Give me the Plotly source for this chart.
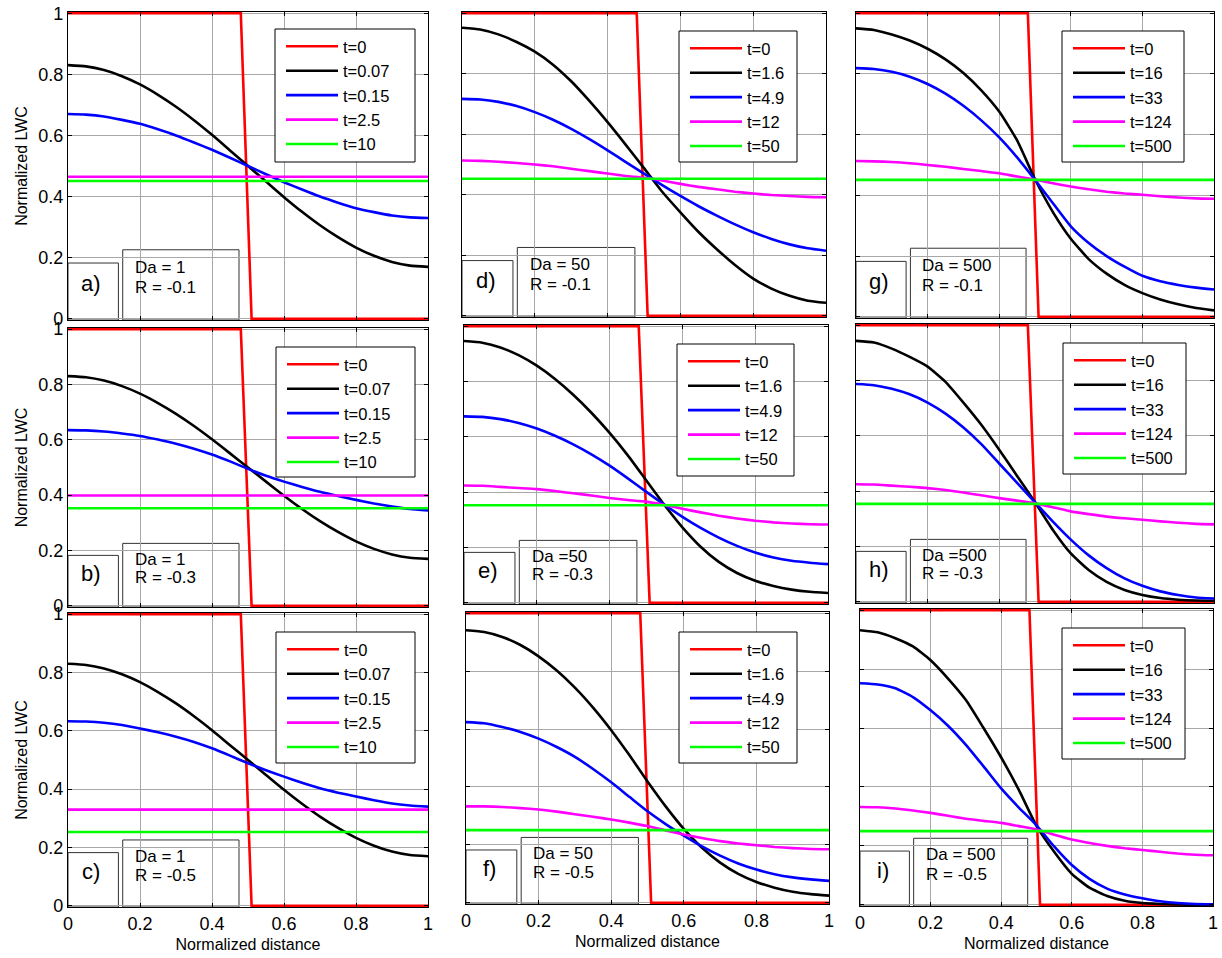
import plotly.graph_objects as go

W, H = 1222, 958
FONT = "Arial, Liberation Sans, sans-serif"

# ---------------- data ----------------
X = [0.0, 0.05, 0.1, 0.15, 0.2, 0.25, 0.3, 0.35, 0.4, 0.45, 0.5,
     0.55, 0.6, 0.65, 0.7, 0.75, 0.8, 0.85, 0.9, 0.95, 1.0]
STEP_X = [0.0, 0.48, 0.51, 1.0]
STEP_Y = [1.0, 1.0, 0.0, 0.0]
FLAT_X = [0.0, 1.0]

Y_TICKS = [0, 0.2, 0.4, 0.6, 0.8, 1]
Y_TICKTEXT = ["0", "0.2", "0.4", "0.6", "0.8", "1"]

LEG_DA1 = ["t=0", "t=0.07", "t=0.15", "t=2.5", "t=10"]
LEG_DA50 = ["t=0", "t=1.6", "t=4.9", "t=12", "t=50"]
LEG_DA500 = ["t=0", "t=16", "t=33", "t=124", "t=500"]

PANEL_LABELS = ["a)", "b)", "c)", "d)", "e)", "f)", "g)", "h)", "i)"]
DA_TEXT = ["Da = 1", "Da = 1", "Da = 1", "Da = 50", "Da =50", "Da = 50",
           "Da = 500", "Da =500", "Da = 500"]
R_TEXT = ["R = -0.1", "R = -0.3", "R = -0.5"] * 3

# panel a  (Da=1, R=-0.1)
a_black = [0.83, 0.826, 0.814, 0.794, 0.767, 0.733, 0.694, 0.65, 0.602, 0.551, 0.5,
           0.449, 0.398, 0.35, 0.306, 0.267, 0.233, 0.206, 0.186, 0.174, 0.17]
a_blue = [0.67, 0.668, 0.662, 0.651, 0.638, 0.62, 0.6, 0.577, 0.553, 0.527, 0.5,
          0.473, 0.447, 0.423, 0.4, 0.38, 0.362, 0.349, 0.338, 0.332, 0.33]
a_magenta = 0.465
a_green = 0.451

# panel b  (Da=1, R=-0.3)
b_black = [0.83, 0.826, 0.814, 0.794, 0.767, 0.733, 0.694, 0.65, 0.602, 0.551, 0.5,
           0.449, 0.398, 0.35, 0.306, 0.267, 0.233, 0.206, 0.186, 0.174, 0.17]
b_blue = [0.635, 0.634, 0.63, 0.623, 0.614, 0.601, 0.586, 0.568, 0.547, 0.522, 0.495,
          0.47, 0.449, 0.43, 0.412, 0.397, 0.383, 0.37, 0.359, 0.35, 0.345]
b_magenta = 0.399
b_green = 0.353

# panel c  (Da=1, R=-0.5)
c_black = [0.83, 0.826, 0.814, 0.794, 0.767, 0.733, 0.694, 0.65, 0.602, 0.551, 0.5,
           0.449, 0.398, 0.35, 0.306, 0.267, 0.233, 0.206, 0.186, 0.174, 0.17]
c_blue = [0.633, 0.632, 0.628, 0.62, 0.608, 0.595, 0.58, 0.562, 0.54, 0.515, 0.489,
          0.465, 0.443, 0.422, 0.403, 0.388, 0.375, 0.362, 0.351, 0.344, 0.34]
c_magenta = 0.33
c_green = 0.253

# panel d  (Da=50, R=-0.1)
d_black = [0.952, 0.946, 0.93, 0.905, 0.873, 0.83, 0.775, 0.71, 0.64, 0.565, 0.488,
           0.41, 0.342, 0.277, 0.22, 0.168, 0.123, 0.09, 0.066, 0.05, 0.043]
d_blue = [0.717, 0.715, 0.707, 0.693, 0.673, 0.648, 0.618, 0.584, 0.547, 0.508, 0.47,
          0.432, 0.396, 0.362, 0.331, 0.302, 0.276, 0.254, 0.236, 0.223, 0.215]
d_magenta = [0.513, 0.512, 0.509, 0.505, 0.5, 0.494, 0.486, 0.478, 0.47, 0.462, 0.456,
             0.447, 0.436, 0.426, 0.418, 0.41, 0.404, 0.399, 0.396, 0.393, 0.392]
d_green = 0.453

# panel e  (Da=50, R=-0.3)
e_black = [0.946, 0.94, 0.923, 0.895, 0.857, 0.809, 0.752, 0.687, 0.614, 0.533, 0.444,
           0.355, 0.273, 0.203, 0.148, 0.108, 0.08, 0.061, 0.048, 0.04, 0.036]
e_blue = [0.674, 0.672, 0.664, 0.65, 0.63, 0.604, 0.573, 0.537, 0.496, 0.45, 0.402,
          0.355, 0.311, 0.271, 0.236, 0.206, 0.182, 0.164, 0.152, 0.145, 0.14]
e_magenta = [0.424, 0.423, 0.419, 0.415, 0.411, 0.404, 0.396, 0.388, 0.379, 0.372, 0.366,
             0.354, 0.34, 0.327, 0.315, 0.305, 0.297, 0.291, 0.287, 0.284, 0.283]
e_green = 0.353

# panel f  (Da=50, R=-0.5)
f_black = [0.941, 0.935, 0.918, 0.89, 0.851, 0.802, 0.743, 0.674, 0.596, 0.51, 0.419,
           0.333, 0.255, 0.19, 0.139, 0.1, 0.072, 0.052, 0.038, 0.03, 0.025]
f_blue = [0.624, 0.62, 0.607, 0.59, 0.567, 0.538, 0.504, 0.462, 0.416, 0.366, 0.316,
          0.272, 0.232, 0.195, 0.163, 0.136, 0.115, 0.099, 0.088, 0.081, 0.076]
f_magenta = [0.333, 0.333, 0.331, 0.327, 0.322, 0.315, 0.306, 0.297, 0.288, 0.277, 0.265,
             0.25, 0.236, 0.224, 0.213, 0.205, 0.199, 0.193, 0.189, 0.186, 0.185]
f_green = 0.251

# panel g  (Da=500, R=-0.1)
g_black = [0.95, 0.945, 0.93, 0.91, 0.883, 0.848, 0.803, 0.746, 0.676, 0.581, 0.453,
           0.345, 0.257, 0.19, 0.142, 0.105, 0.078, 0.057, 0.041, 0.029, 0.021]
g_blue = [0.819, 0.816, 0.807, 0.791, 0.767, 0.735, 0.695, 0.647, 0.591, 0.525, 0.451,
          0.374, 0.298, 0.243, 0.2, 0.165, 0.135, 0.117, 0.105, 0.096, 0.09]
g_magenta = [0.513, 0.512, 0.51, 0.506, 0.5, 0.494, 0.487, 0.48, 0.473, 0.462, 0.452,
             0.44, 0.429, 0.42, 0.412, 0.406, 0.402, 0.397, 0.393, 0.39, 0.389]
g_green = 0.451

# panel h  (Da=500, R=-0.3)
h_black = [0.943, 0.937, 0.915, 0.885, 0.85, 0.795, 0.72, 0.64, 0.55, 0.455, 0.36,
           0.26, 0.175, 0.115, 0.072, 0.043, 0.025, 0.014, 0.008, 0.005, 0.004]
h_blue = [0.787, 0.783, 0.77, 0.75, 0.72, 0.68, 0.63, 0.57, 0.5, 0.43, 0.36,
          0.29, 0.225, 0.168, 0.122, 0.085, 0.058, 0.038, 0.025, 0.016, 0.012]
h_magenta = [0.425, 0.424, 0.42, 0.416, 0.411, 0.404, 0.395, 0.385, 0.375, 0.366, 0.356,
             0.342, 0.327, 0.317, 0.308, 0.302, 0.297, 0.291, 0.286, 0.282, 0.28]
h_green = 0.354

# panel i  (Da=500, R=-0.5)
i_black = [0.932, 0.925, 0.905, 0.877, 0.83, 0.767, 0.695, 0.6, 0.5, 0.39, 0.268,
           0.18, 0.105, 0.058, 0.03, 0.014, 0.006, 0.003, 0.001, 0.0, 0.0]
i_blue = [0.752, 0.748, 0.735, 0.705, 0.66, 0.607, 0.543, 0.47, 0.395, 0.33, 0.27,
          0.198, 0.135, 0.088, 0.055, 0.035, 0.022, 0.012, 0.006, 0.003, 0.002]
i_magenta = [0.332, 0.331, 0.327, 0.32, 0.312, 0.302, 0.292, 0.285, 0.278, 0.267, 0.256,
             0.238, 0.222, 0.21, 0.2, 0.192, 0.186, 0.18, 0.174, 0.17, 0.168]
i_green = 0.25

PANELS = [
    (LEG_DA1, a_black, a_blue, a_magenta, a_green),
    (LEG_DA1, b_black, b_blue, b_magenta, b_green),
    (LEG_DA1, c_black, c_blue, c_magenta, c_green),
    (LEG_DA50, d_black, d_blue, d_magenta, d_green),
    (LEG_DA50, e_black, e_blue, e_magenta, e_green),
    (LEG_DA50, f_black, f_blue, f_magenta, f_green),
    (LEG_DA500, g_black, g_blue, g_magenta, g_green),
    (LEG_DA500, h_black, h_blue, h_magenta, h_green),
    (LEG_DA500, i_black, i_blue, i_magenta, i_green),
]

# ---------------- layout geometry (reference pixels: left, right, top, bottom) ----------------
BOXES = [
    (68, 428, 12, 320), (68, 428, 328, 607), (68, 428, 613, 907),
    (462, 826, 12, 317), (464, 828, 325, 604), (466, 829, 612, 904),
    (856, 1214, 12, 318), (856, 1214, 324, 603), (860, 1213, 609, 906),
]
LEGEND_BOXES = [
    (275, 415, 29, 162), (276, 415, 347, 477), (276, 415, 632, 763),
    (679, 797, 31, 162), (677, 794, 344, 476), (679, 797, 632, 763),
    (1062, 1184, 31, 162), (1063, 1186, 343, 474), (1062, 1185, 628, 759),
]


def px(x):
    return x / W


def py(y):
    return 1 - y / H


COLORS = ["#ff0000", "#000000", "#0000ff", "#ff00ff", "#00ff00"]
LW = 2.6

fig = go.Figure()
layout = dict(
    width=W, height=H,
    margin=dict(l=0, r=0, t=0, b=0, autoexpand=False),
    paper_bgcolor="white", plot_bgcolor="white",
    font=dict(family=FONT, color="black"),
    shapes=[], annotations=[],
)

for k, (legs, blk, blu, mag, grn) in enumerate(PANELS):
    n = "" if k == 0 else str(k + 1)
    xa, ya = "x" + n, "y" + n
    leg = "legend" + n
    col, row = k // 3, k % 3
    series = [
        (STEP_X, STEP_Y),
        (X, blk),
        (X, blu),
        (X, mag) if isinstance(mag, list) else (FLAT_X, [mag, mag]),
        (FLAT_X, [grn, grn]),
    ]
    for j, (xs, ys) in enumerate(series):
        curved = len(xs) > 4
        fig.add_trace(go.Scatter(
            x=xs, y=ys, mode="lines", name=legs[j],
            line=dict(color=COLORS[j], width=LW,
                      shape="spline" if curved else "linear",
                      smoothing=0.5 if curved else None),
            xaxis=xa, yaxis=ya, legend=leg, showlegend=True, hoverinfo="skip",
        ))

    l, r, t, b = BOXES[k]
    axc = dict(showgrid=True, gridcolor="#a8a8a8",
               gridwidth=1, showline=True, linecolor="black", linewidth=1.3,
               mirror="ticks", ticks="inside", ticklen=4, tickcolor="black",
               zeroline=False, fixedrange=True, automargin=False,
               ticklabeloverflow="allow",
               tickfont=dict(size=18, family=FONT, color="black"))
    xax = dict(axc, range=[0, 1], dtick=0.2, tick0=0,
               domain=[px(l), px(r)], anchor=ya, showticklabels=(row == 2))
    yax = dict(axc, range=[-0.004, 1.004], tickmode="array",
               tickvals=Y_TICKS, ticktext=Y_TICKTEXT,
               domain=[py(b), py(t)], anchor=xa, showticklabels=(col == 0))
    if row == 2:
        xax["title"] = dict(text="Normalized distance", font=dict(size=16, family=FONT), standoff=6)
    if col == 0:
        yax["title"] = dict(text="Normalized LWC", font=dict(size=16, family=FONT), standoff=6)
    layout["xaxis" + n] = xax
    layout["yaxis" + n] = yax

    # legend frame drawn as a shape; legend itself is transparent and sits on top
    ll, lr, lt, lb = LEGEND_BOXES[k]
    layout["shapes"].append(dict(
        type="rect", xref="paper", yref="paper", x0=px(ll), x1=px(lr), y0=py(lb), y1=py(lt),
        fillcolor="white", line=dict(color="black", width=1), layer="above"))
    layout[leg] = dict(x=px(ll + 6), y=py(lt), xanchor="left", yanchor="top",
                       bgcolor="rgba(0,0,0,0)", borderwidth=0,
                       font=dict(size=16.5, family=FONT, color="black"),
                       itemwidth=52, tracegroupgap=0, itemclick=False,
                       itemdoubleclick=False)

    xd, yd = xa + " domain", ya + " domain"
    layout["shapes"] += [
        dict(type="rect", xref=xd, yref=yd, x0=0, x1=0.14, y0=0, y1=0.185,
             fillcolor="white", line=dict(color="#333333", width=1), layer="below"),
        dict(type="rect", xref=xd, yref=yd, x0=0.152, x1=0.475, y0=0, y1=0.228,
             fillcolor="white", line=dict(color="#333333", width=1), layer="below"),
    ]
    layout["annotations"] += [
        dict(xref=xd, yref=yd, x=0.065, y=0.12, text=PANEL_LABELS[k], showarrow=False,
             xanchor="center", yanchor="middle", font=dict(size=22, family=FONT, color="black")),
        dict(xref=xd, yref=yd, x=0.18, y=0.172, text=DA_TEXT[k], showarrow=False,
             xanchor="left", yanchor="middle", font=dict(size=17, family=FONT, color="black")),
        dict(xref=xd, yref=yd, x=0.18, y=0.107, text=R_TEXT[k], showarrow=False,
             xanchor="left", yanchor="middle", font=dict(size=17, family=FONT, color="black")),
    ]

fig.update_layout(**layout)
# remove the browser's default 8px page margin so the figure fills the window exactly
fig.write_html("out.html",
               config={"displayModeBar": False},
               post_script="document.body.style.margin='0';document.body.style.overflow='hidden';")
